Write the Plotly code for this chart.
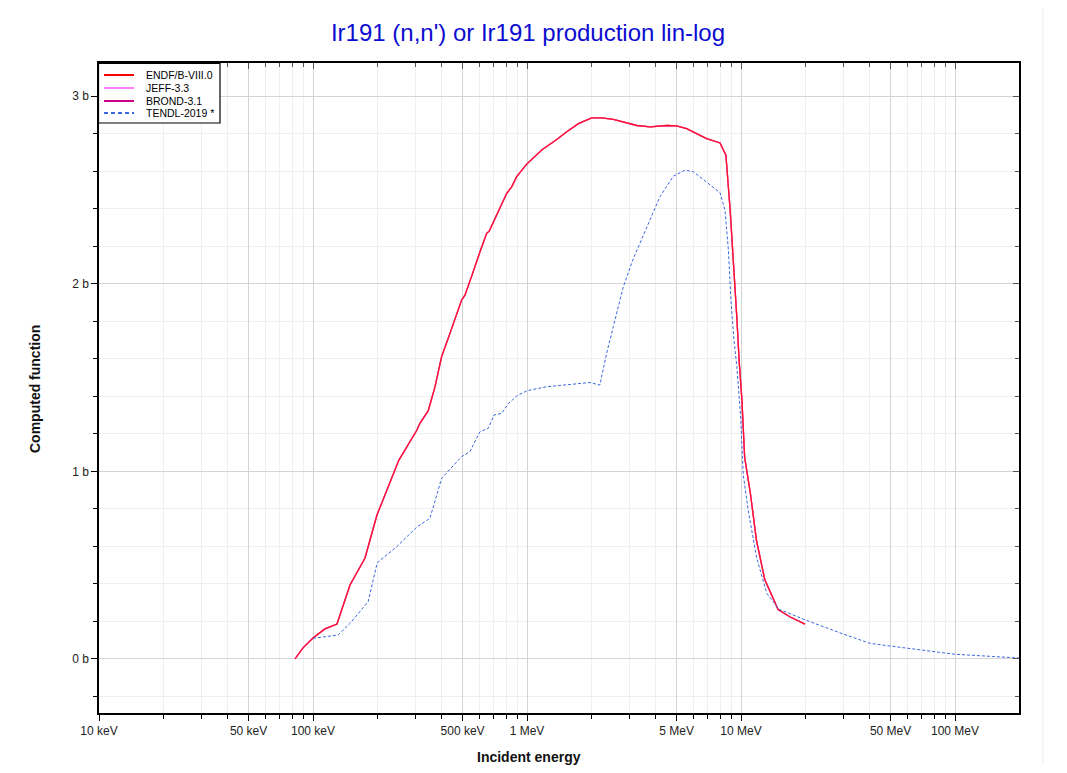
import plotly.graph_objects as go

# ---------------- data ----------------
series_names = ["ENDF/B-VIII.0", "JEFF-3.3", "BROND-3.1", "TENDL-2019 *"]
series_colors = ["#ff0000", "#ff80ff", "#cc0088", "#3b68e0"]

# Evaluated (ENDF/B-VIII.0, JEFF-3.3, BROND-3.1 coincide) energies in eV, values in barns
eval_energy = [82.4e3, 89.8e3, 100e3, 113.7e3, 129.4e3, 148.9e3, 175e3, 199e3, 252e3, 306e3,
               316e3, 345.6e3, 371.7e3, 399e3, 436.5e3, 495e3, 513e3, 541.5e3, 557e3, 603e3,
               648e3, 666e3, 803e3, 848e3, 895e3, 997e3, 1.172e6, 1.377e6, 1.534e6, 1.739e6,
               2.006e6, 2.234e6, 2.53e6, 3.26e6, 3.76e6, 4.5e6, 5.0e6, 5.57e6, 6.91e6, 7.98e6,
               8.5e6, 8.9e6, 9.27e6, 9.56e6, 9.8e6, 10.1e6, 10.4e6, 11.06e6, 11.8e6, 12.9e6,
               14.9e6, 16.9e6, 19.9e6]
eval_xs = [0.0, 0.059, 0.112, 0.160, 0.186, 0.394, 0.538, 0.767, 1.060, 1.220,
           1.256, 1.323, 1.451, 1.611, 1.735, 1.913, 1.939, 2.010, 2.055, 2.170,
           2.268, 2.280, 2.480, 2.516, 2.570, 2.637, 2.712, 2.768, 2.810, 2.853,
           2.884, 2.884, 2.875, 2.843, 2.836, 2.843, 2.841, 2.826, 2.773, 2.750,
           2.685, 2.390, 2.090, 1.820, 1.590, 1.380, 1.074, 0.883, 0.635, 0.425,
           0.263, 0.225, 0.186]

# TENDL-2019
tendl_energy = [100e3, 131e3, 149e3, 181e3, 199.6e3, 246e3, 305e3, 352e3, 399e3, 495e3,
                541e3, 603e3, 659e3, 701e3, 762e3, 818e3, 895e3, 997e3, 1.237e6, 1.589e6,
                1.969e6, 2.19e6, 2.356e6, 2.53e6, 2.82e6, 3.14e6, 3.63e6, 4.18e6, 4.83e6, 5.47e6,
                5.98e6, 6.91e6, 7.98e6, 8.42e6, 8.73e6, 8.97e6, 9.27e6, 9.56e6, 9.8e6, 9.95e6,
                10.25e6, 10.82e6, 11.83e6, 13.2e6, 15.06e6, 19.96e6, 30.0e6, 40.1e6, 49.7e6, 79.2e6,
                100e6, 200e6]
tendl_xs = [0.110, 0.128, 0.190, 0.305, 0.513, 0.598, 0.702, 0.750, 0.963, 1.078,
            1.105, 1.211, 1.229, 1.300, 1.309, 1.361, 1.401, 1.429, 1.451, 1.464,
            1.473, 1.460, 1.629, 1.771, 1.984, 2.134, 2.303, 2.463, 2.573, 2.605,
            2.597, 2.539, 2.485, 2.390, 2.180, 1.913, 1.700, 1.558, 1.400, 1.300,
            0.979, 0.788, 0.540, 0.349, 0.265, 0.208, 0.133, 0.083, 0.069, 0.039,
            0.025, 0.005]

x_tick_vals = [1e4, 5e4, 1e5, 5e5, 1e6, 5e6, 1e7, 5e7, 1e8]
x_tick_text = ["10 keV", "50 keV", "100 keV", "500 keV", "1 MeV", "5 MeV", "10 MeV", "50 MeV", "100 MeV"]
x_minor_vals = [m * d for d in (1e4, 1e5, 1e6, 1e7, 1e8) for m in (2, 3, 4, 6, 7, 8, 9)]
x_minor_vals = [v for v in x_minor_vals if v <= 2e8]
y_tick_vals = [0, 1, 2, 3]
y_tick_text = ["0 b", "1 b", "2 b", "3 b"]

title_text = "Ir191 (n,n') or Ir191 production lin-log"
x_title = "Incident energy"
y_title = "Computed function"

# ---------------- layout constants (page pixel coordinates) ----------------
OFF = 8  # default body margin of the html page
W, H = 1067 - OFF, 773 - OFF
L, R, T, B = 99, 1019, 63, 713
PW, PH = R - L, B - T
x_range = [4.0, 8.299]
y_range = [-0.288, 3.176]
FONT = "Liberation Sans, Arial, sans-serif"


def px2paper_x(px):
    return (px - L) / PW


def px2paper_y(py):
    return (B - py) / PH


fig = go.Figure()

# evaluated libraries (coinciding curves)
fig.add_trace(go.Scatter(x=eval_energy, y=eval_xs, mode="lines", name=series_names[2],
                         line=dict(color=series_colors[2], width=1.3), hoverinfo="skip"))
fig.add_trace(go.Scatter(x=eval_energy, y=eval_xs, mode="lines", name=series_names[1],
                         line=dict(color=series_colors[1], width=1.3), hoverinfo="skip"))
fig.add_trace(go.Scatter(x=eval_energy, y=eval_xs, mode="lines", name=series_names[0],
                         line=dict(color=series_colors[0], width=1.3), opacity=0.85))
fig.add_trace(go.Scatter(x=tendl_energy, y=tendl_xs, mode="lines", name=series_names[3],
                         line=dict(color=series_colors[3], width=1.0, dash="3px,2px")))

# invisible trace for the mirrored (inside-tick) axes
fig.add_trace(go.Scatter(x=tendl_energy, y=tendl_xs, mode="lines", xaxis="x2", yaxis="y2",
                         line=dict(width=0), opacity=0, hoverinfo="skip", showlegend=False))

axis_common = dict(showline=True, linecolor="black", linewidth=1.5, zeroline=False)

fig.update_layout(
    width=W, height=H,
    margin=dict(l=L - OFF, r=W - (R - OFF), t=T - OFF, b=H - (B - OFF)),
    paper_bgcolor="white", plot_bgcolor="white",
    showlegend=False,
    title=dict(text=title_text, x=(528 - OFF) / W, xanchor="center", y=1 - (33 - OFF) / H,
               yanchor="middle", font=dict(family=FONT, size=24, color="#0c0cd0")),
    font=dict(family=FONT, size=12, color="#222222"),
    xaxis=dict(type="log", range=x_range, tickmode="array", tickvals=x_tick_vals, ticktext=x_tick_text,
               ticks="outside", ticklen=6, tickwidth=1, tickcolor="black",
               showgrid=True, gridcolor="#d4d4d4", gridwidth=1,
               minor=dict(tickmode="array", tickvals=x_minor_vals, ticks="outside", ticklen=4,
                          tickcolor="black", showgrid=True, gridcolor="#efefef", gridwidth=1),
               tickfont=dict(family=FONT, size=12, color="#222222"),
               **axis_common),
    yaxis=dict(range=y_range, tickmode="array", tickvals=y_tick_vals, ticktext=y_tick_text,
               ticks="outside", ticklen=6, tickwidth=1, tickcolor="black",
               showgrid=True, gridcolor="#d4d4d4", gridwidth=1,
               minor=dict(dtick=0.2, ticks="outside", ticklen=4, tickcolor="black",
                          showgrid=True, gridcolor="#efefef", gridwidth=1),
               tickfont=dict(family=FONT, size=12, color="#222222"),
               **axis_common),
    xaxis2=dict(type="log", range=x_range, overlaying="x", side="top", tickmode="array",
                tickvals=x_tick_vals, showticklabels=False, ticks="inside", ticklen=6,
                tickcolor="#555555", showgrid=False,
                minor=dict(tickmode="array", tickvals=x_minor_vals, ticks="inside", ticklen=4,
                           tickcolor="#555555", showgrid=False),
                **axis_common),
    yaxis2=dict(range=y_range, overlaying="y", side="right", tickmode="array", tickvals=y_tick_vals,
                showticklabels=False, ticks="inside", ticklen=6, tickcolor="#555555", showgrid=False,
                minor=dict(dtick=0.2, ticks="inside", ticklen=4, tickcolor="#555555", showgrid=False),
                **axis_common),
)

# axis titles
fig.add_annotation(text="<b>" + x_title + "</b>", xref="paper", yref="paper",
                   x=px2paper_x(529), y=px2paper_y(757), xanchor="center", yanchor="middle",
                   showarrow=False, font=dict(family=FONT, size=14, color="#111111"))
fig.add_annotation(text="<b>" + y_title + "</b>", xref="paper", yref="paper",
                   x=px2paper_x(35), y=px2paper_y(389), xanchor="center", yanchor="middle",
                   textangle=-90, showarrow=False, font=dict(family=FONT, size=14, color="#111111"))

# legend (drawn as a box with line samples)
box = dict(x0=px2paper_x(98.5), x1=px2paper_x(220), y0=px2paper_y(123), y1=px2paper_y(63.5))
fig.add_shape(type="rect", xref="paper", yref="paper", **box,
              line=dict(color="black", width=1.2), fillcolor="white", layer="above")
row_y = [75, 88, 101, 113]
dashes = ["solid", "solid", "solid", "4px,3px"]
for name, color, ry, dsh in zip(series_names, series_colors, row_y, dashes):
    fig.add_shape(type="line", xref="paper", yref="paper",
                  x0=px2paper_x(104), x1=px2paper_x(134), y0=px2paper_y(ry), y1=px2paper_y(ry),
                  line=dict(color=color, width=2, dash=dsh), layer="above")
    fig.add_annotation(text=name, xref="paper", yref="paper", x=px2paper_x(144), y=px2paper_y(ry),
                       xanchor="left", yanchor="middle", showarrow=False,
                       font=dict(family=FONT, size=10.5, color="black"))

# faint page frame line on the right
fig.add_shape(type="line", xref="paper", yref="paper",
              x0=px2paper_x(1043), x1=px2paper_x(1043), y0=px2paper_y(765), y1=px2paper_y(3),
              line=dict(color="#eeeeee", width=1))

fig.write_html("out.html")
